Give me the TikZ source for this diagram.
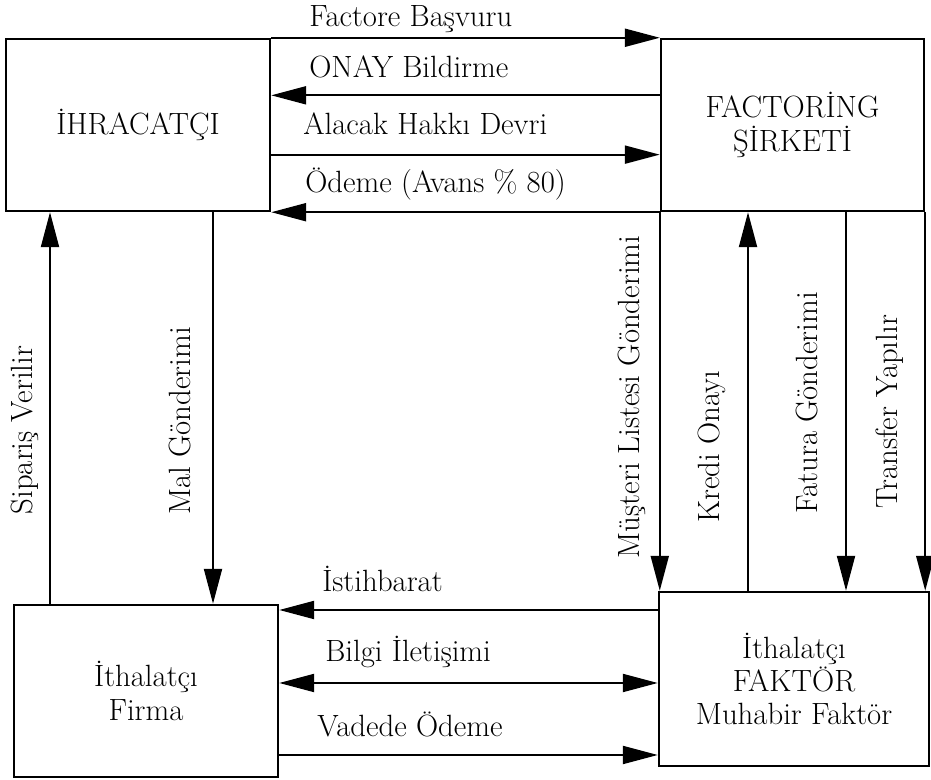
\documentclass[tikz,border=0pt]{standalone}
\usepackage{fontspec}
\usetikzlibrary{arrows.meta,calc}

\begin{document}
\begin{tikzpicture}[
    font=\fontsize{17.5}{19}\selectfont,
    box/.style={draw=black,line width=1.4pt,minimum width=5.28cm,minimum height=3.44cm,inner sep=0pt,align=center},
    arr/.style={line width=1.2pt,>={Triangle[length=0.7cm,width=0.36cm]},->},
    lbl/.style={inner sep=0pt,anchor=base west},
    vlbl/.style={inner sep=0pt,rotate=90}]
    \useasboundingbox (0,0) rectangle (18.62,15.6);

    \node[box] (ihr) at (2.76,13.10) {İHRACATÇI};
    \node[box,minimum width=5.26cm] (fac) at (15.85,13.10) {FACTORİNG\\ŞİRKETİ};
    \node[box] (ith) at (2.92,1.78) {İthalatçı\\Firma};
    \node[box,minimum width=5.40cm,minimum height=3.48cm] (muh) at (15.88,2.02) {İthalatçı\\FAKTÖR\\Muhabir Faktör};

    \coordinate (onay) at ($(fac.north west)!0.33!(fac.south west)$);
    \coordinate (alacak) at ($(fac.north west)!0.67!(fac.south west)$);
    \coordinate (ist) at (0,3.40);
    \coordinate (bilgi) at (0,1.94);
    \coordinate (vade) at (0,0.50);
    \coordinate (sip) at (1.00,0);
    \coordinate (mal) at (4.26,0);
    \coordinate (kredi) at (14.96,0);
    \coordinate (fatura) at (16.92,0);

    \draw[arr] (ihr.north east) -- (fac.north west);
    \draw[arr] (onay) -- (onay -| ihr.east);
    \draw[arr] (alacak -| ihr.east) -- (alacak);
    \draw[arr] (fac.south west) -- (ihr.south east);

    \draw[arr] (muh.west |- ist) -- (ith.east |- ist);
    \draw[arr,<->] (ith.east |- bilgi) -- (muh.west |- bilgi);
    \draw[arr] (ith.east |- vade) -- (muh.west |- vade);

    \draw[arr] (ith.north -| sip) -- (ihr.south -| sip);
    \draw[arr] (ihr.south -| mal) -- (ith.north -| mal);
    \draw[arr] (fac.south west) -- (fac.south west |- muh.north);
    \draw[arr] (muh.north -| kredi) -- (fac.south -| kredi);
    \draw[arr] (fac.south -| fatura) -- (muh.north -| fatura);
    \draw[arr] (fac.south east) -- (fac.south east |- muh.north);

    \node[lbl] (lbas) at (6.18,15.06) {Factore Başvuru};
    \node[lbl] (lonay) at (6.18,14.04) {ONAY Bildirme};
    \node[lbl] (lala) at (6.06,12.90) {Alacak Hakkı Devri};
    \node[lbl] (lode) at (6.10,11.74) {Ödeme (Avans \% 80)};
    \node[lbl] (list) at (6.44,3.76) {İstihbarat};
    \node[lbl] (lbil) at (6.50,2.36) {Bilgi İletişimi};
    \node[lbl] (lvad) at (6.34,0.86) {Vadede Ödeme};

    \node[vlbl] (lsip) at (0.50,7.00) {Sipariş Verilir};
    \node[vlbl] (lmal) at (3.60,7.18) {Mal Gönderimi};
    \node[vlbl] (lmus) at (12.64,7.66) {Müşteri Listesi Gönderimi};
    \node[vlbl] (lkre) at (14.24,6.66) {Kredi Onayı};
    \node[vlbl] (lfat) at (16.14,7.54) {Fatura Gönderimi};
    \node[vlbl] (ltra) at (17.80,7.36) {Transfer Yapılır};
\end{tikzpicture}
\end{document}
